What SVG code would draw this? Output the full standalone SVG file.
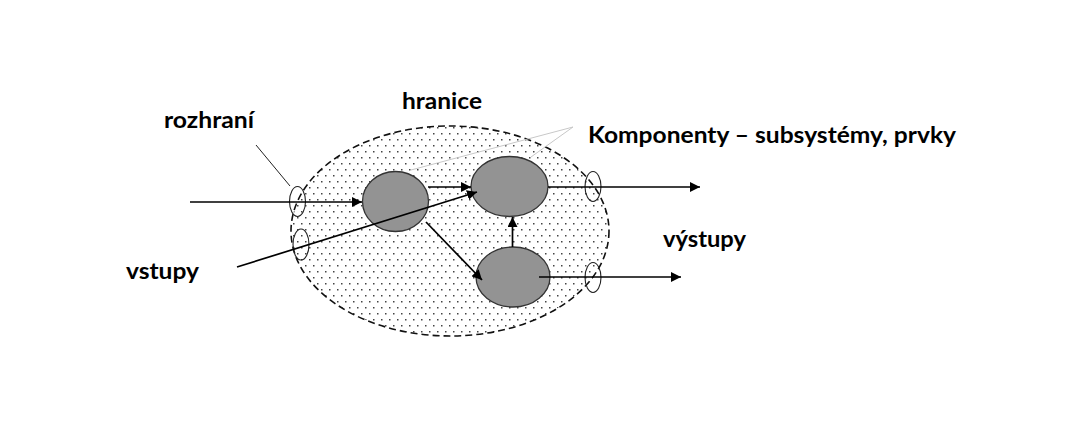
<svg xmlns="http://www.w3.org/2000/svg" width="1087" height="430" viewBox="0 0 1087 430">
<style>
.lbl{font-family:"Lato","Liberation Sans",sans-serif;font-weight:bold;font-size:22px;fill:#000}
.node{fill:#939393;stroke:#333;stroke-width:1.3}
.ifc{fill:none;stroke:#222;stroke-width:1.1}
.arr{stroke:#000;stroke-width:1.7;fill:none;marker-end:url(#ah)}
.lead{stroke:#222;stroke-width:1;fill:none}
.leadg{stroke:#c8c8c8;stroke-width:1;fill:none}
</style>
<defs>
<pattern id="dots" width="8" height="12" patternUnits="userSpaceOnUse">
<rect x="1" y="1" width="1.5" height="1.5" fill="#444"/>
<rect x="5" y="7" width="1.5" height="1.5" fill="#444"/>
</pattern>
<marker id="ah" viewBox="0 0 10 10" refX="10" refY="5" markerWidth="10" markerHeight="10" markerUnits="userSpaceOnUse" orient="auto">
<path d="M0,0 L10,5 L0,10 z" fill="#000"/>
</marker>
</defs>
<rect width="1087" height="430" fill="#fff"/>
<g id="hranice">
<ellipse cx="450" cy="231" rx="159" ry="105" fill="url(#dots)" stroke="#111" stroke-width="1.6" stroke-dasharray="7,4"/>
</g>
<g id="komponenta-a"><ellipse class="node" cx="395.5" cy="201.5" rx="33" ry="30"/></g>
<g id="komponenta-b"><ellipse class="node" cx="509.5" cy="186.5" rx="38.5" ry="30"/></g>
<g id="komponenta-c"><ellipse class="node" cx="513" cy="277" rx="37" ry="30"/></g>
<g id="rozhrani">
<ellipse class="ifc" cx="297.5" cy="201.5" rx="8" ry="15"/>
<ellipse class="ifc" cx="301" cy="244.5" rx="8" ry="15.5"/>
<ellipse class="ifc" cx="593" cy="186.5" rx="8" ry="15"/>
<ellipse class="ifc" cx="593" cy="277.5" rx="8" ry="15"/>
</g>
<g id="connectors">
<line class="arr" x1="190" y1="202" x2="362" y2="202"/>
<line class="arr" x1="237" y1="267" x2="477" y2="192"/>
<line class="arr" x1="428" y1="187" x2="471" y2="187"/>
<line class="arr" x1="426" y1="222" x2="482" y2="280"/>
<line class="arr" x1="512.5" y1="247" x2="512.5" y2="217"/>
<line class="arr" x1="548" y1="187" x2="700" y2="187"/>
<line class="arr" x1="539" y1="277" x2="681" y2="277"/>
<line class="lead" x1="256" y1="145" x2="290" y2="186"/>
<line class="leadg" x1="573" y1="127" x2="411" y2="170"/>
<line class="leadg" x1="573" y1="127" x2="531" y2="157"/>
</g>
<g id="texts">
<text class="lbl" x="402" y="109" textLength="80" lengthAdjust="spacingAndGlyphs">hranice</text>
<text class="lbl" x="164" y="128" textLength="90" lengthAdjust="spacingAndGlyphs">rozhraní</text>
<text class="lbl" x="588" y="143" textLength="368" lengthAdjust="spacingAndGlyphs">Komponenty – subsystémy, prvky</text>
<text class="lbl" x="663" y="247" textLength="83" lengthAdjust="spacingAndGlyphs">výstupy</text>
<text class="lbl" x="126" y="279" textLength="73" lengthAdjust="spacingAndGlyphs">vstupy</text>
</g>
</svg>
